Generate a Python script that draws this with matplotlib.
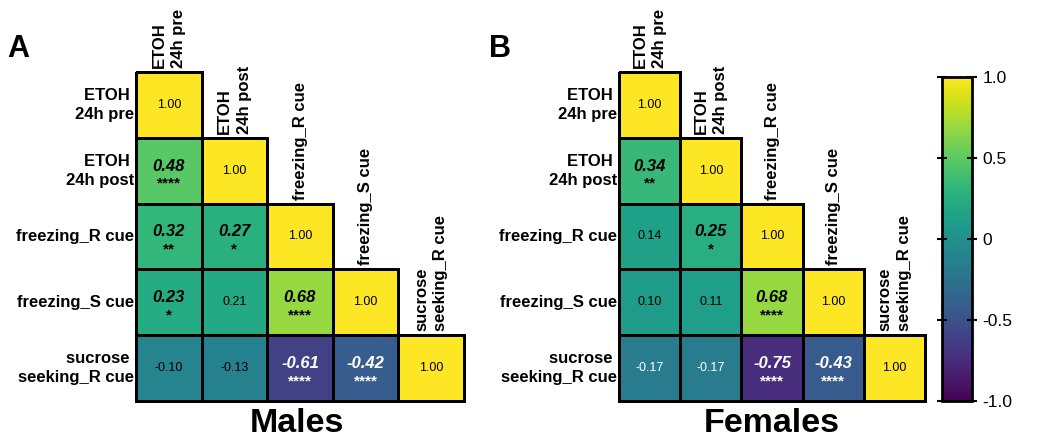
import numpy as np
import matplotlib
matplotlib.use("Agg")
import matplotlib.pyplot as plt
from matplotlib.colors import Normalize
from matplotlib.cm import ScalarMappable

plt.rcParams['font.family'] = ['Liberation Sans', 'DejaVu Sans']

row_labels = ["ETOH \n24h pre", "ETOH \n24h post", "freezing_R cue", "freezing_S cue", "sucrose \nseeking_R cue"]
col_labels = ["ETOH\n24h pre", "ETOH\n24h post", "freezing_R cue", "freezing_S cue", "sucrose\nseeking_R cue"]

males_r = [
    [1.00],
    [0.48, 1.00],
    [0.32, 0.27, 1.00],
    [0.23, 0.21, 0.68, 1.00],
    [-0.10, -0.13, -0.61, -0.42, 1.00],
]
males_sig = [
    [""],
    ["****", ""],
    ["**", "*", ""],
    ["*", "", "****", ""],
    ["", "", "****", "****", ""],
]
females_r = [
    [1.00],
    [0.34, 1.00],
    [0.14, 0.25, 1.00],
    [0.10, 0.11, 0.68, 1.00],
    [-0.17, -0.17, -0.75, -0.43, 1.00],
]
females_sig = [
    [""],
    ["**", ""],
    ["", "*", ""],
    ["", "", "****", ""],
    ["", "", "****", "****", ""],
]
cbar_ticks = [-1.0, -0.5, 0, 0.5, 1.0]
cbar_ticklabels = ["-1.0", "-0.5", "0", "0.5", "1.0"]
titles = ["Males", "Females"]
panel_letters = ["A", "B"]

W, H = 1050, 443
fig = plt.figure(figsize=(W / 100, H / 100), dpi=100)
cmap = plt.get_cmap("viridis")
norm = Normalize(vmin=-1, vmax=1)


def px_axes(x0, x1, y0, y1):
    return fig.add_axes([x0 / W, 1 - y1 / H, (x1 - x0) / W, (y1 - y0) / H])


def draw(ax, vals, sigs):
    n = len(vals)
    for i, row in enumerate(vals):
        C = np.array([row])
        ax.pcolormesh(np.arange(len(row) + 1), [i, i + 1], C, cmap=cmap, norm=norm,
                      edgecolors="black", linewidth=1.8, clip_on=False)
    ax.set_xlim(0, n)
    ax.set_ylim(n, 0)
    ax.axis("off")
    for i, row in enumerate(vals):
        for j, v in enumerate(row):
            color = "white" if v < -0.15 else "black"
            s = sigs[i][j]
            if s:
                ax.text(j + 0.5, i + 0.43, f"{v:.2f}", ha="center", va="center",
                        fontsize=12, fontweight="bold", fontstyle="italic", color=color)
                ax.text(j + 0.5, i + 0.70, s, ha="center", va="center",
                        fontsize=11, fontweight="bold", color=color)
            else:
                ax.text(j + 0.5, i + 0.5, f"{v:.2f}", ha="center", va="center",
                        fontsize=9, color=color)
    for i, lab in enumerate(row_labels):
        ax.text(-0.03, i + 0.5, lab, ha="right", va="center", fontsize=12,
                fontweight="bold", multialignment="right", linespacing=1.35)
    for j, lab in enumerate(col_labels):
        ax.text(j + 0.5, j - 0.06, lab, ha="center", va="bottom", rotation=90,
                fontsize=12, fontweight="bold", multialignment="left", linespacing=1.35)


ax1 = px_axes(136, 464, 72, 401)
draw(ax1, males_r, males_sig)
ax2 = px_axes(619, 925, 72, 401)
draw(ax2, females_r, females_sig)

fig.text(297 / W, 1 - 424 / H, titles[0], ha="center", va="center", fontsize=24.5, fontweight="bold")
fig.text(772 / W, 1 - 424 / H, titles[1], ha="center", va="center", fontsize=24.5, fontweight="bold")
fig.text(18 / W, 1 - 49 / H, panel_letters[0], ha="center", va="center", fontsize=22, fontweight="bold")
fig.text(500 / W, 1 - 49 / H, panel_letters[1], ha="center", va="center", fontsize=22, fontweight="bold")

cax = px_axes(942, 972, 77, 401)
sm = ScalarMappable(norm=norm, cmap=cmap)
cb = fig.colorbar(sm, cax=cax, ticks=cbar_ticks)
cb.ax.set_yticklabels(cbar_ticklabels)
cb.outline.set_linewidth(2)
cb.ax.tick_params(direction="inout", left=True, right=True, length=7, width=1.5,
                  labelsize=12.5, pad=4)

fig.savefig("out.png", dpi=100)
